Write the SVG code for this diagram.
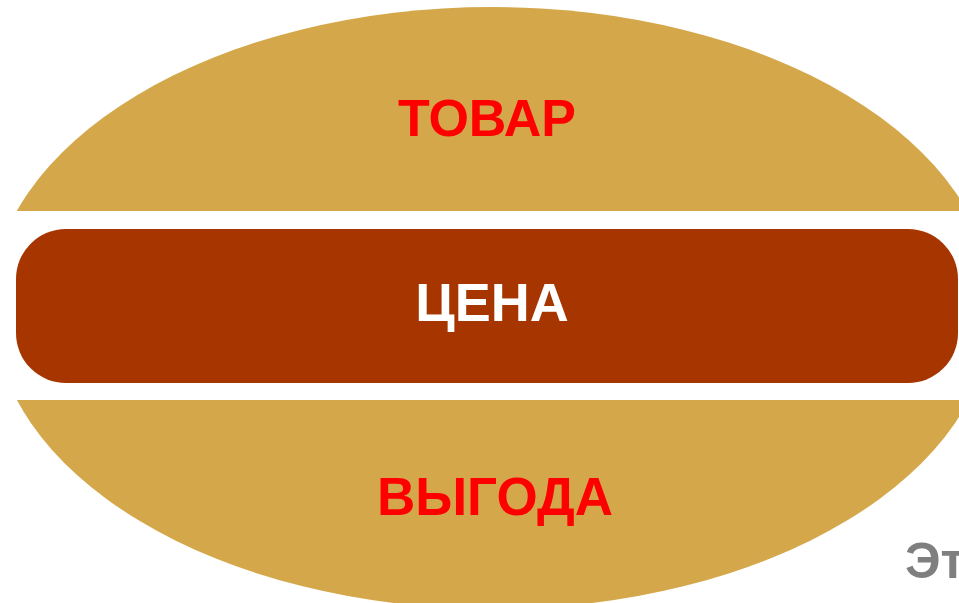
<svg xmlns="http://www.w3.org/2000/svg" width="959" height="603" viewBox="0 0 959 603">
<defs>
<style>
.lbl{font-family:"Liberation Sans",Arial,sans-serif;font-weight:bold;text-anchor:middle}
.red{fill:#FF0000}
.wht{fill:#FFFFFF;font-size:54px}
.gold{fill:#D4A84A}
</style>
<clipPath id="topc"><rect x="0" y="0" width="959" height="211"/></clipPath>
<clipPath id="botc"><rect x="0" y="400" width="959" height="203"/></clipPath>
</defs>
<rect width="959" height="603" fill="#FFFFFF"/>
<g id="top">
<ellipse class="gold" cx="492" cy="308" rx="502" ry="301" clip-path="url(#topc)"/>
<text class="lbl red" x="487" y="136" font-size="52">ТОВАР</text>
</g>
<g id="bottom">
<ellipse class="gold" cx="493" cy="308" rx="500" ry="301" clip-path="url(#botc)"/>
<text class="lbl red" x="495" y="515" font-size="53">ВЫГОДА</text>
</g>
<g id="middle">
<rect x="16" y="229" width="942" height="154" rx="50" ry="50" fill="#A63500"/>
<text class="lbl wht" x="492" y="321">ЦЕНА</text>
</g>
<g id="connectors"></g>
<text x="905" y="578" font-family="'Liberation Sans',Arial,sans-serif" font-weight="bold" font-size="50" fill="#7F7F7F">Эт</text>
</svg>
